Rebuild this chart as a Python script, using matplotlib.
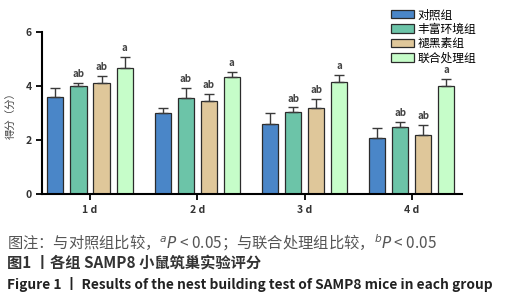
import numpy as np
import matplotlib
matplotlib.use("Agg")
import matplotlib.pyplot as plt
from matplotlib.patches import Patch

plt.rcParams['font.family'] = ['Noto Sans CJK SC', 'DejaVu Sans']

days = ["1 d", "2 d", "3 d", "4 d"]
groups = ["对照组", "丰富环境组", "褪黑素组", "联合处理组"]
means = {
    "对照组":     [3.59, 3.00, 2.59, 2.07],
    "丰富环境组": [4.00, 3.56, 3.04, 2.48],
    "褪黑素组":   [4.11, 3.44, 3.19, 2.19],
    "联合处理组": [4.67, 4.33, 4.15, 4.00],
}
errs = {
    "对照组":     [0.34, 0.19, 0.41, 0.37],
    "丰富环境组": [0.11, 0.37, 0.17, 0.19],
    "褪黑素组":   [0.26, 0.26, 0.33, 0.37],
    "联合处理组": [0.40, 0.19, 0.26, 0.26],
}
marks = {
    "对照组":     ["", "", "", ""],
    "丰富环境组": ["ab", "ab", "ab", "ab"],
    "褪黑素组":   ["ab", "ab", "ab", "ab"],
    "联合处理组": ["a", "a", "a", "a"],
}
colors = ["#4a86c8", "#6cc4a8", "#dfc79a", "#c6fdc9"]

fig = plt.figure(figsize=(5.19, 3.0), dpi=100)
ax = fig.add_axes([0.081, 0.353, 0.809, 0.54])

x = np.arange(len(days))
width = 0.15
step = 0.215
for i, g in enumerate(groups):
    xs = x + (i - 1.5) * step
    m = np.array(means[g])
    e = np.array(errs[g])
    ax.bar(xs, m, width, color=colors[i], edgecolor="#2b2b2b", linewidth=0.9,
           yerr=[np.zeros_like(e), e], capsize=3.5,
           error_kw=dict(ecolor="#3a3a3a", elinewidth=1.0, capthick=1.0))
    for xi, mi, ei, t in zip(xs, m, e, marks[g]):
        if t:
            ax.text(xi, mi + ei + 0.14, t, ha="center", va="bottom",
                    fontsize=7, color="#444444", fontweight="bold")

ax.set_xlim(-0.447, 3.467)
ax.set_ylim(0, 6)
ax.set_yticks([0, 2, 4, 6])
ax.set_xticks(x)
ax.set_xticklabels(days, fontsize=7.5, color="#333333", fontweight="bold")
ax.tick_params(axis="y", labelsize=7.5, labelcolor="#333333", width=1.3, length=4)
ax.tick_params(axis="x", width=1.3, length=4)
for lab in ax.get_yticklabels():
    lab.set_fontweight("bold")
ax.spines["top"].set_visible(False)
ax.spines["right"].set_visible(False)
ax.spines["left"].set_linewidth(1.5)
ax.spines["bottom"].set_linewidth(1.5)
ax.set_ylabel("得分（分）", fontsize=7.5, color="#444444", labelpad=6)

handles = [Patch(facecolor=c, edgecolor="#2b2b2b", linewidth=0.9) for c in colors]
fig.legend(handles, groups, loc="upper left", bbox_to_anchor=(0.738, 1.0),
           frameon=False, fontsize=8.5, handlelength=1.9, handleheight=0.7,
           labelspacing=0.12, handletextpad=0.3, borderpad=0.2)

fig.text(0.013, 0.192, "图注：与对照组比较，$^{a}$$\\it{P}$ < 0.05；与联合处理组比较，$^{b}$$\\it{P}$ < 0.05",
         fontsize=11, color="#555555", va="center")
fig.text(0.013, 0.123, "图1 丨各组 SAMP8 小鼠筑巢实验评分",
         fontsize=11, color="#333333", va="center", fontweight="bold")
fig.text(0.013, 0.05, "Figure 1 丨 Results of the nest building test of SAMP8 mice in each group",
         fontsize=9.9, color="#222222", va="center", fontweight="bold")

fig.savefig("out.png", dpi=100)
